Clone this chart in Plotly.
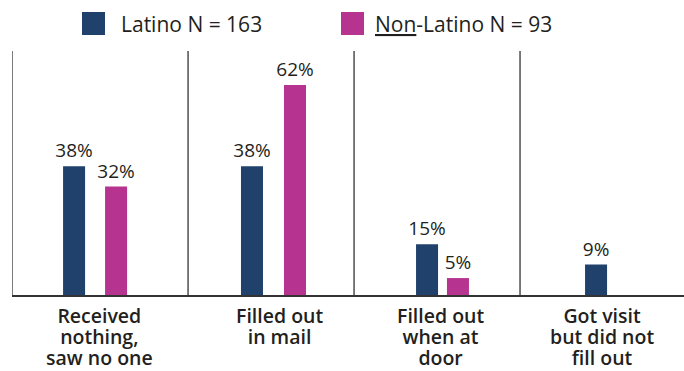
import plotly.graph_objects as go

# Survey response categories and shares (%) for each group
categories = [
    "Received nothing, saw no one",
    "Filled out in mail",
    "Filled out when at door",
    "Got visit but did not fill out",
]
category_lines = [
    ["Received", "nothing,", "saw no one"],
    ["Filled out", "in mail"],
    ["Filled out", "when at", "door"],
    ["Got visit", "but did not", "fill out"],
]
series_names = ["Latino N = 163", "Non-Latino N = 93"]
series_labels = ["Latino N = 163", "<u>Non</u>-Latino N = 93"]
latino = [38, 38, 15, 9]
non_latino = [32, 62, 5, None]

# Styling
NAVY = "#1f416b"
MAGENTA = "#b6338f"
INK = "#231f20"
RULE = "#333333"
FONT = "Open Sans"

W, H = 684, 371
M = dict(l=12, r=0, t=51, b=76)
PW, PH = W - M["l"] - M["r"], H - M["t"] - M["b"]


def px_x(px):
    return (px - M["l"]) / PW


def px_y(py):
    return (H - M["b"] - py) / PH


# bar placement within each category slot (axis units, one slot = 1.0)
bar_width = 0.131
latino_offset = [-0.196, -0.137, -0.095, -0.089]
non_latino_offset = [0.054, 0.119, 0.089, 0.0]
separators = [-0.5, 0.548, 1.536, 2.524]
label_shift = [3, 15, 8, 2]


def pct(values):
    return ["" if v is None else f"{v}%" for v in values]


fig = go.Figure()
for name, vals, offs, color in [
    (series_names[0], latino, latino_offset, NAVY),
    (series_names[1], non_latino, non_latino_offset, MAGENTA),
]:
    fig.add_trace(
        go.Bar(
            name=name,
            x=categories,
            y=vals,
            width=bar_width,
            offset=offs,
            marker=dict(color=color, line=dict(width=0)),
            text=pct(vals),
            textposition="outside",
            constraintext="none",
            cliponaxis=False,
            textfont=dict(family=FONT, size=19, color=INK),
            showlegend=False,
            hoverinfo="skip",
        )
    )

shapes = []
for sx in separators:
    shapes.append(
        dict(type="line", xref="x", yref="paper", x0=sx, x1=sx, y0=0, y1=1,
             line=dict(color=RULE, width=1.3), layer="below")
    )

annotations = []
# category labels under the baseline: tight leading from a 16px base size,
# glyphs drawn at 19px through an inline span
for cat, lines, dx in zip(categories, category_lines, label_shift):
    text = "<br>".join(
        f'<span style="font-size:19.5px;font-weight:600">{ln}</span>' for ln in lines
    )
    annotations.append(
        dict(x=cat, y=0, xref="x", yref="paper", text=text, showarrow=False,
             xanchor="center", yanchor="top", xshift=dx, yshift=-5,
             align="center",
             font=dict(family=FONT, size=16, color=INK))
    )

# legend: colour swatch + label for each series
legend_items = [(82, 119, NAVY, series_labels[0]), (341, 373, MAGENTA, series_labels[1])]
for sw_x, tx_x, color, label in legend_items:
    shapes.append(
        dict(type="rect", xref="paper", yref="paper",
             x0=px_x(sw_x), x1=px_x(sw_x + 23), y0=px_y(35), y1=px_y(12),
             fillcolor=color, line=dict(width=0))
    )
    annotations.append(
        dict(x=px_x(tx_x), y=px_y(24), xref="paper", yref="paper", text=label,
             showarrow=False, xanchor="left", yanchor="middle",
             font=dict(family=FONT, size=21, color=INK))
    )

fig.update_layout(
    width=W,
    height=H,
    margin=M,
    paper_bgcolor="white",
    plot_bgcolor="white",
    barmode="overlay",
    shapes=shapes,
    annotations=annotations,
    xaxis=dict(range=[-0.5, 3.5], showline=True, linecolor=RULE, linewidth=2,
               showticklabels=False, ticks="", showgrid=False, zeroline=False,
               fixedrange=True),
    yaxis=dict(range=[0, 72], visible=False, showgrid=False, zeroline=False,
               fixedrange=True),
)

fig.write_html("out.html")
